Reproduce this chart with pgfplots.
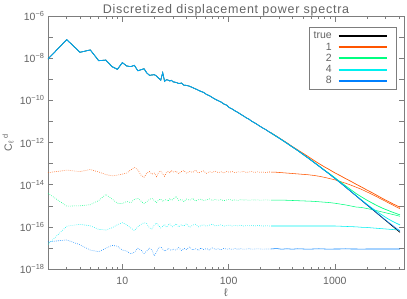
\documentclass[border=0pt]{standalone}
\usepackage{fontspec}
\setmainfont{Liberation Sans}
\usepackage{pgfplots}
\usepackage{pgfplotstable}
\pgfplotsset{compat=1.18}
\usetikzlibrary{calc}

\definecolor{c1}{RGB}{255,85,0}
\definecolor{c2}{RGB}{0,255,128}
\definecolor{c4}{RGB}{0,240,240}
\definecolor{c8}{RGB}{0,128,255}
\definecolor{txt}{RGB}{100,100,100}
\definecolor{axc}{RGB}{125,125,125}

% low multipoles: log10 of C_l^d
\pgfplotstableread{
l t n1 n2 n4 n8
2 -8.04 -13.43 -14.41 -16.83 -16.71
3 -7.12 -13.31 -15.02 -15.97 -16.62
4 -7.72 -13.38 -15.00 -15.88 -16.85
5 -7.61 -13.28 -14.95 -15.95 -17.10
6 -8.12 -13.40 -14.75 -16.12 -17.18
7 -8.09 -13.52 -14.46 -16.15 -17.02
8 -8.40 -13.58 -14.68 -16.05 -16.88
9 -8.53 -13.55 -14.88 -15.90 -16.92
10 -8.21 -13.50 -14.90 -15.80 -17.10
11 -8.37 -13.45 -14.80 -15.90 -17.15
12 -8.40 -13.30 -14.85 -16.05 -17.28
13 -8.34 -13.18 -14.70 -16.18 -17.20
14 -8.60 -13.30 -14.65 -16.00 -17.02
15 -8.55 -13.55 -14.78 -15.88 -17.10
16 -8.50 -13.65 -14.90 -15.80 -17.26
17 -8.70 -13.45 -14.80 -15.85 -17.15
18 -8.81 -13.38 -14.70 -16.05 -17.00
19 -8.80 -13.50 -14.65 -16.10 -17.10
20 -8.78 -13.45 -14.75 -15.90 -17.38
21 -8.85 -13.62 -14.85 -15.82 -17.20
22 -8.95 -13.40 -14.72 -15.95 -16.98
23 -9.04 -13.35 -14.68 -16.05 -16.95
24 -8.69 -13.50 -14.80 -15.98 -17.05
25 -9.10 -13.60 -14.74 -15.88 -17.15
26 -9.02 -13.42 -14.70 -16.02 -17.10
27 -9.04 -13.38 -14.78 -15.92 -17.02
28 -9.08 -13.45 -14.66 -15.85 -17.08
29 -9.05 -13.33 -14.75 -15.98 -17.12
30 -9.12 -13.40 -14.70 -16.00 -17.05
32 -9.15 -13.36 -14.55 -15.85 -17.10
34 -9.20 -13.48 -14.75 -16.00 -16.98
36 -9.18 -13.38 -14.70 -15.90 -17.12
38 -9.28 -13.33 -14.80 -15.96 -17.02
40 -9.29 -13.45 -14.68 -15.85 -17.08
43 -9.33 -13.37 -14.74 -16.02 -16.95
46 -9.40 -13.42 -14.65 -15.92 -17.10
49 -9.46 -13.31 -14.78 -15.88 -17.04
52 -9.52 -13.44 -14.71 -16.00 -17.12
55 -9.58 -13.39 -14.69 -15.94 -17.00
58 -9.62 -13.35 -14.76 -15.90 -17.08
62 -9.72 -13.46 -14.72 -15.97 -17.03
66 -9.78 -13.38 -14.67 -15.92 -17.10
70 -9.86 -13.42 -14.75 -15.87 -17.00
75 -9.95 -13.36 -14.70 -15.96 -17.07
80 -10.02 -13.43 -14.74 -15.93 -17.04
85 -10.08 -13.39 -14.71 -15.90 -17.09
90 -10.17 -13.44 -14.76 -15.97 -17.02
96 -10.23 -13.37 -14.72 -15.94 -17.06
102 -10.35 -13.41 -14.70 -15.91 -17.04
108 -10.41 -13.38 -14.74 -15.96 -17.07
115 -10.50 -13.43 -14.72 -15.93 -17.03
122 -10.57 -13.39 -14.75 -15.95 -17.06
130 -10.66 -13.41 -14.71 -15.92 -17.04
138 -10.74 -13.37 -14.73 -15.96 -17.06
147 -10.83 -13.42 -14.72 -15.94 -17.05
156 -10.90 -13.40 -14.74 -15.95 -17.04
166 -11.00 -13.38 -14.72 -15.93 -17.06
176 -11.07 -13.42 -14.73 -15.96 -17.05
187 -11.15 -13.39 -14.72 -15.94 -17.04
199 -11.24 -13.41 -14.74 -15.95 -17.05
211 -11.32 -13.40 -14.73 -15.96 -17.06
224 -11.39 -13.42 -14.72 -15.95 -17.05
238 -11.48 -13.40 -14.73 -15.96 -17.05
251 -11.55 -13.40 -14.73 -15.96 -17.05
}\lowtab

% high multipoles: log10 of C_l^d
\pgfplotstableread{
l t m1 m2 m4 m8 n1 n2 n4 n8
251 -11.55 -11.54 -11.55 -11.55 -11.55 -13.40 -14.73 -15.96 -17.05
282 -11.71 -11.70 -11.71 -11.71 -11.71 -13.41 -14.73 -15.96 -17.03
316 -11.87 -11.86 -11.87 -11.87 -11.87 -13.43 -14.73 -15.96 -17.06
355 -12.04 -12.02 -12.04 -12.04 -12.04 -13.45 -14.74 -15.96 -17.04
398 -12.21 -12.19 -12.21 -12.21 -12.21 -13.47 -14.75 -15.96 -17.06
447 -12.38 -12.35 -12.38 -12.38 -12.38 -13.49 -14.76 -15.96 -17.04
501 -12.56 -12.51 -12.56 -12.56 -12.56 -13.51 -14.77 -15.96 -17.05
562 -12.74 -12.67 -12.74 -12.74 -12.74 -13.53 -14.78 -15.96 -17.06
631 -12.93 -12.84 -12.92 -12.93 -12.93 -13.56 -14.79 -15.96 -17.05
708 -13.12 -13.00 -13.11 -13.12 -13.12 -13.60 -14.81 -15.96 -17.04
794 -13.31 -13.15 -13.30 -13.31 -13.31 -13.65 -14.83 -15.96 -17.05
891 -13.50 -13.29 -13.48 -13.50 -13.50 -13.71 -14.85 -15.96 -17.06
1000 -13.70 -13.44 -13.67 -13.70 -13.70 -13.77 -14.88 -15.96 -17.05
1122 -13.90 -13.57 -13.86 -13.90 -13.90 -13.85 -14.92 -15.97 -17.05
1259 -14.11 -13.71 -14.05 -14.10 -14.11 -13.93 -14.96 -15.98 -17.04
1413 -14.32 -13.84 -14.24 -14.31 -14.32 -14.02 -15.01 -15.99 -17.05
1585 -14.53 -13.98 -14.42 -14.52 -14.53 -14.12 -15.06 -16.00 -17.05
1778 -14.74 -14.11 -14.58 -14.72 -14.74 -14.22 -15.08 -16.02 -17.06
1995 -14.95 -14.25 -14.73 -14.92 -14.95 -14.34 -15.13 -16.03 -17.05
2239 -15.16 -14.38 -14.87 -15.11 -15.15 -14.46 -15.18 -16.05 -17.05
2512 -15.37 -14.52 -15.00 -15.29 -15.36 -14.59 -15.24 -16.07 -17.05
2818 -15.58 -14.66 -15.12 -15.46 -15.57 -14.72 -15.30 -16.09 -17.05
3162 -15.79 -14.79 -15.22 -15.62 -15.77 -14.85 -15.36 -16.11 -17.05
3548 -16.00 -14.92 -15.32 -15.76 -15.96 -14.98 -15.42 -16.13 -17.05
3981 -16.21 -15.04 -15.41 -15.88 -16.15 -15.11 -15.48 -16.15 -17.05
4096 -16.26 -15.07 -15.43 -15.91 -16.20 -15.14 -15.50 -16.16 -17.05
}\hightab

\begin{document}
\begin{tikzpicture}
\begin{axis}[
  name=ax, at={(0,0)}, anchor=south west,
  scale only axis, width=356pt, height=253pt,
  xmode=log, ymode=log,
  xmin=2, xmax=4470, ymin=1e-18, ymax=1e-6,
  xtick={10,100,1000}, xticklabels={10,100,1000},
  minor xtick={2,3,4,5,6,7,8,9,20,30,40,50,60,70,80,90,200,300,400,500,600,700,800,900,2000,3000,4000},
  ytick={1e-18,1e-17,1e-16,1e-15,1e-14,1e-13,1e-12,1e-11,1e-10,1e-9,1e-8,1e-7,1e-6},
  yticklabels={10\textsuperscript{−18},,10\textsuperscript{−16},,10\textsuperscript{−14},,10\textsuperscript{−12},,10\textsuperscript{−10},,10\textsuperscript{−8},,10\textsuperscript{−6}},
  yminorticks=false,
  tick align=inside,
  major tick length=5.5pt, minor tick length=2.5pt,
  axis line style={axc, line width=0.6pt},
  every tick/.style={axc, line width=0.5pt},
  ticklabel style={text=txt, font=\fontsize{10.5}{12}\selectfont},
  xticklabel style={yshift=-5pt},
  title={Discretized displacement power spectra},
  title style={text=txt, font=\fontsize{12.5}{15}\selectfont\addfontfeature{LetterSpace=6}, at={(axis description cs:0.5,1)}, anchor=base, yshift=-3pt},
  xlabel={ℓ},
  xlabel style={text=txt, font=\fontsize{11}{13}\selectfont, at={(axis description cs:0.5,0)}, anchor=base, yshift=-27pt},
  ylabel={C\textsubscript{ℓ}\textsuperscript{ d}},
  ylabel style={text=txt, font=\fontsize{10.5}{12}\selectfont, at={(axis description cs:-0.112,0.5)}, anchor=center},
  legend cell align=right,
  legend plot pos=right,
  legend image code/.code={\draw[#1] (0pt,0pt) -- (48pt,0pt); \path (54pt,0pt);},
  legend style={at={(1,1)}, anchor=north east, xshift=-7pt, yshift=-11pt,
    draw=axc, line width=0.5pt, text=txt, font=\fontsize{10.5}{12}\selectfont,
    inner sep=3pt, row sep=0.3pt, column sep=5pt,
    nodes={inner sep=1pt, text height=7.5pt, text depth=1.5pt}},
]
\addlegendimage{black, line width=2pt}\addlegendentry{true}
\addlegendimage{c1, line width=2pt}\addlegendentry{1}
\addlegendimage{c2, line width=2pt}\addlegendentry{2}
\addlegendimage{c4, line width=2pt}\addlegendentry{4}
\addlegendimage{c8, line width=2pt}\addlegendentry{8}

% true spectrum
\addplot[black, line width=0.7pt, forget plot] table[x=l, y expr=10^(\thisrow{t})] {\lowtab};
\addplot[black, line width=0.7pt, forget plot] table[x=l, y expr=10^(\thisrow{t})] {\hightab};

% resolution 1
\addplot[c1, line width=0.6pt, dash pattern=on 0.6pt off 1.4pt, forget plot] table[x=l, y expr=10^(\thisrow{n1})] {\lowtab};
\addplot[c1, line width=0.55pt, forget plot] table[x=l, y expr=10^(\thisrow{n1})] {\hightab};
\addplot[c1, line width=0.7pt, forget plot] table[x=l, y expr=10^(\thisrow{m1})] {\hightab};

% resolution 2
\addplot[c2, line width=0.6pt, dash pattern=on 0.6pt off 1.4pt, forget plot] table[x=l, y expr=10^(\thisrow{n2})] {\lowtab};
\addplot[c2, line width=0.55pt, forget plot] table[x=l, y expr=10^(\thisrow{n2})] {\hightab};
\addplot[c2, line width=0.7pt, forget plot] table[x=l, y expr=10^(\thisrow{m2})] {\hightab};

% resolution 4
\addplot[c4, line width=0.6pt, dash pattern=on 0.6pt off 1.4pt, forget plot] table[x=l, y expr=10^(\thisrow{n4})] {\lowtab};
\addplot[c4, line width=0.55pt, forget plot] table[x=l, y expr=10^(\thisrow{n4})] {\hightab};
\addplot[c4, line width=0.7pt, forget plot] table[x=l, y expr=10^(\thisrow{t})] {\lowtab};
\addplot[c4, line width=0.7pt, forget plot] table[x=l, y expr=10^(\thisrow{m4})] {\hightab};

% resolution 8
\addplot[c8, line width=0.6pt, dash pattern=on 0.6pt off 1.4pt, forget plot] table[x=l, y expr=10^(\thisrow{n8})] {\lowtab};
\addplot[c8, line width=0.55pt, forget plot] table[x=l, y expr=10^(\thisrow{n8})] {\hightab};
\addplot[c8, opacity=0.65, line width=0.7pt, forget plot] table[x=l, y expr=10^(\thisrow{t})] {\lowtab};
\addplot[c8, opacity=0.8, line width=0.7pt, forget plot] table[x=l, y expr=10^(\thisrow{m8})] {\hightab};
\end{axis}
\pgfresetboundingbox
\useasboundingbox (-48pt,-29pt) rectangle (359pt,269pt);
\end{tikzpicture}
\end{document}
